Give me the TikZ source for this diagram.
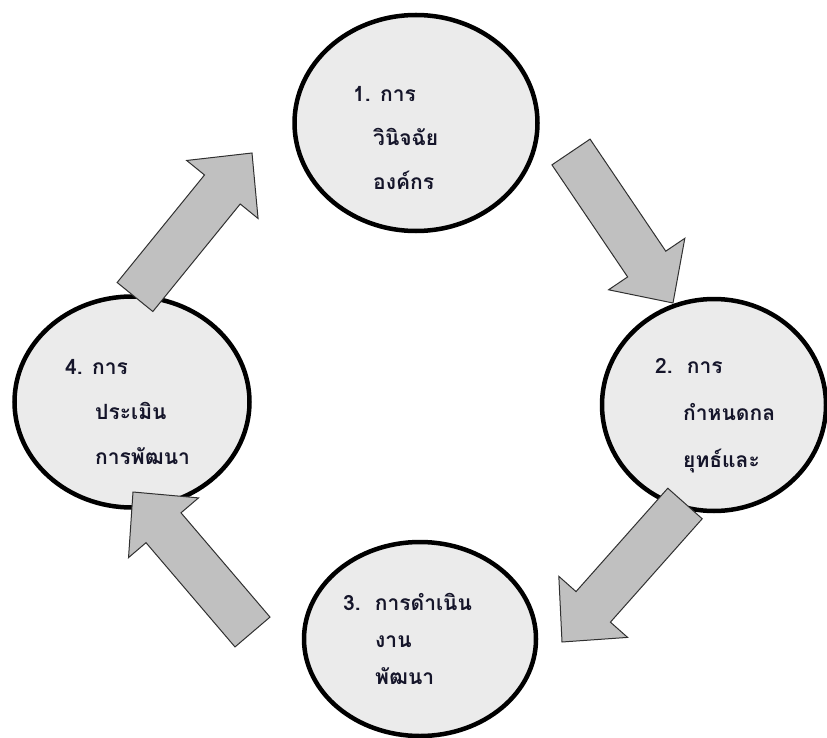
\documentclass[tikz,border=0pt]{standalone}
\usepackage{fontspec}
\newfontfamily\thaifont[Script=Thai]{Loma}
\usetikzlibrary{calc,shapes.geometric}
\definecolor{circfill}{HTML}{EBEBEB}
\definecolor{arrfill}{HTML}{C0C0C0}
\definecolor{arrline}{HTML}{303030}
\definecolor{txt}{HTML}{15152A}
\tikzset{
  stage/.style={ellipse, draw=black, line width=4.5pt, fill=circfill, inner sep=0pt},
  lbl/.style={anchor=base west, inner sep=0pt, font=\thaifont\bfseries\fontsize{21}{25}\selectfont, text=txt},
  blockarr/.style={fill=arrfill, draw=arrline, line width=1pt, line join=miter},
}
\newcommand{\blockarrow}[2]{%
  \coordinate (h) at ($(#2)!47pt!(#1)$);
  \draw[blockarr] ($(#1)!23pt!90:(#2)$) -- ($(h)!23pt!90:(#2)$) -- ($(h)!46pt!90:(#2)$)
    -- (#2) -- ($(h)!46pt!-90:(#2)$) -- ($(h)!23pt!-90:(#2)$) -- ($(#1)!23pt!-90:(#2)$) -- cycle;
}
\begin{document}
\begin{tikzpicture}[x=1pt,y=-1pt]
\useasboundingbox (0,0) rectangle (827,738);
% stages
\node[stage, minimum width=243pt, minimum height=216pt] (s1) at (416,123) {};
\node[stage, minimum width=224pt, minimum height=212pt] (s2) at (714,405) {};
\node[stage, minimum width=232pt, minimum height=194pt] (s3) at (420,639) {};
\node[stage, minimum width=235pt, minimum height=211pt] (s4) at (132,402) {};
% labels
\node[lbl] (t1a) at (353,102) {1. การ};
\node[lbl] (t1b) at (373,146) {วินิจฉัย};
\node[lbl] (t1c) at (373,190) {องค์กร};
\node[lbl] (t2a) at (655,373) {2.\ \ การ};
\node[lbl] (t2b) at (683,420) {กำหนดกล};
\node[lbl] (t2c) at (683,467) {ยุทธ์และ};
\node[lbl] (t3a) at (343,610) {3.\ \ การดำเนิน};
\node[lbl] (t3b) at (375,647) {งาน};
\node[lbl] (t3c) at (375,684) {พัฒนา};
\node[lbl] (t4a) at (65,374) {4. การ};
\node[lbl] (t4b) at (95,419) {ประเมิน};
\node[lbl] (t4c) at (95,464) {การพัฒนา};
% arrows
\coordinate (a1t) at (135,297); \coordinate (a1p) at (252,153);
\coordinate (a2t) at (571,152); \coordinate (a2p) at (673,303);
\coordinate (a3t) at (685,503.5); \coordinate (a3p) at (562,642);
\coordinate (a4t) at (252.5,632); \coordinate (a4p) at (133,492);
\blockarrow{a1t}{a1p}
\blockarrow{a2t}{a2p}
\blockarrow{a3t}{a3p}
\blockarrow{a4t}{a4p}
\end{tikzpicture}
\end{document}
